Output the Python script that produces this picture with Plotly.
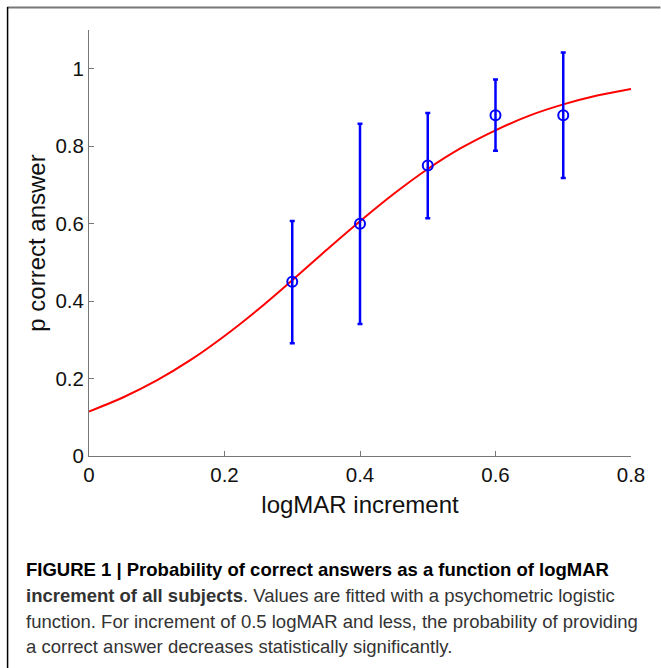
import plotly.graph_objects as go

# ---- data ----
x_points = [0.3, 0.4, 0.5, 0.6, 0.7]
p_correct = [0.45, 0.60, 0.75, 0.88, 0.88]
err_upper = [0.607, 0.858, 0.886, 0.972, 1.042]
err_lower = [0.291, 0.341, 0.614, 0.788, 0.718]

fit_x = [0.0, 0.05, 0.1, 0.15, 0.2, 0.25, 0.3, 0.35, 0.4, 0.45, 0.5, 0.55, 0.6, 0.65, 0.7, 0.75, 0.8]
fit_y = [0.115, 0.151, 0.195, 0.248, 0.310, 0.379, 0.454, 0.531, 0.606, 0.677, 0.741, 0.796, 0.841, 0.879, 0.908, 0.931, 0.948]

x_ticks = [0, 0.2, 0.4, 0.6, 0.8]
x_tick_labels = ["0", "0.2", "0.4", "0.6", "0.8"]
y_ticks = [0, 0.2, 0.4, 0.6, 0.8, 1.0]
y_tick_labels = ["0", "0.2", "0.4", "0.6", "0.8", "1"]

caption_lines = [
    "<b>FIGURE 1 | Probability of correct answers as a function of logMAR</b>",
    "<b>increment of all subjects</b>. Values are fitted with a psychometric logistic",
    "function. For increment of 0.5 logMAR and less, the probability of providing",
    "a correct answer decreases statistically significantly.",
]

W, H = 661, 668
L, R, T, B = 89, 29.5, 30, 212
PW, PH = W - L - R, H - T - B


def px(xpix):
    return (xpix - L) / PW


def py(ypix):
    return (H - B - ypix) / PH


err_plus = [u - p for u, p in zip(err_upper, p_correct)]
err_minus = [p - l for p, l in zip(p_correct, err_lower)]

fig = go.Figure()
fig.add_trace(go.Scatter(
    x=fit_x, y=fit_y, mode="lines", line=dict(color="#ff0000", width=2, shape="spline"),
    showlegend=False, hoverinfo="skip"))
fig.add_trace(go.Scatter(
    x=x_points, y=p_correct, mode="markers",
    marker=dict(symbol="circle-open", size=10, color="#0000ff", line=dict(width=2, color="#0000ff")),
    error_y=dict(type="data", symmetric=False, array=err_plus, arrayminus=err_minus,
                 color="#0000ff", thickness=2.5, width=2.5),
    showlegend=False))

font_family = "Liberation Sans, Arial, Helvetica, sans-serif"

fig.update_layout(
    width=W, height=H,
    margin=dict(l=L, r=R, t=T, b=B, pad=0),
    paper_bgcolor="white", plot_bgcolor="white",
    font=dict(family=font_family, color="#111111"),
    xaxis=dict(range=[0, 0.8], tickvals=x_ticks, ticktext=x_tick_labels,
               ticks="inside", ticklen=5, tickcolor="#777777",
               showline=True, linecolor="#777777", linewidth=1,
               showgrid=False, zeroline=False,
               tickfont=dict(size=20.5, color="#111111"),
               title=dict(text="logMAR increment", font=dict(size=24, color="#111111"), standoff=11)),
    yaxis=dict(range=[0, 1.1], tickvals=y_ticks, ticktext=y_tick_labels,
               ticks="inside", ticklen=5, tickcolor="#777777",
               showline=True, linecolor="#777777", linewidth=1,
               showgrid=False, zeroline=False,
               tickfont=dict(size=20.5, color="#111111"),
               title=dict(text="p correct answer", font=dict(size=24, color="#111111"), standoff=3)),
)

# frame lines of the figure panel
fig.add_shape(type="line", xref="paper", yref="paper",
              x0=px(7), x1=px(661), y0=py(7.5), y1=py(7.5),
              line=dict(color="#777777", width=2))
fig.add_shape(type="line", xref="paper", yref="paper",
              x0=px(7.5), x1=px(7.5), y0=py(7), y1=py(668),
              line=dict(color="#000000", width=1.5))

caption_y = [569, 595, 621, 646]
for i, (txt, ypos) in enumerate(zip(caption_lines, caption_y)):
    fig.add_annotation(
        text=txt, xref="paper", yref="paper", x=px(24), y=py(ypos),
        xanchor="left", yanchor="middle", showarrow=False,
        font=dict(size=18.5, family=font_family, color="#000000" if i == 0 else "#333333"))

fig.write_html("out.html", config={"displayModeBar": False},
               post_script="document.body.style.margin='0';document.body.style.overflow='hidden';")
